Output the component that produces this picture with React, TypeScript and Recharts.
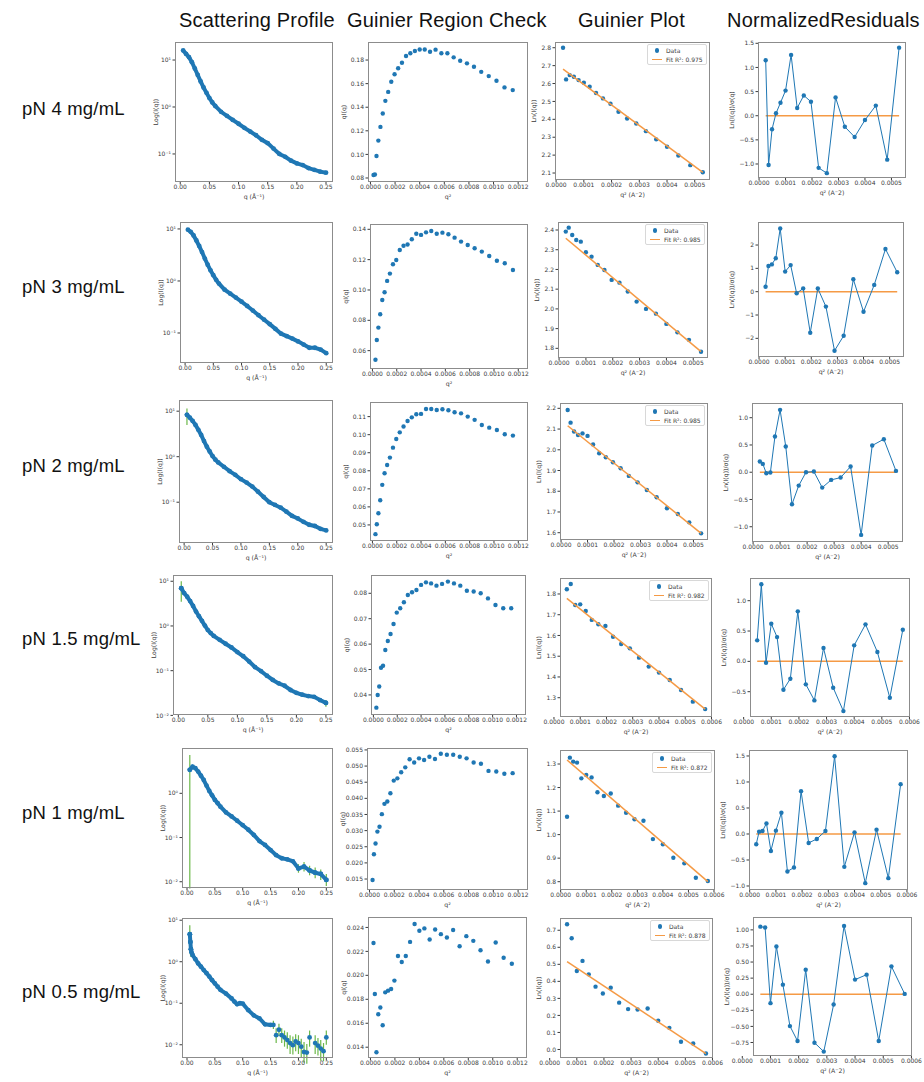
import React from 'react';
import { ComposedChart, Scatter, XAxis, YAxis, ErrorBar } from 'recharts';

const BLUE = '#1f77b4';
const ORANGE = '#f59a45';
const GREEN = '#6cb84a';
const FRAME = '#8c8c8c';
const INK = '#3a3a3a';

const titles = ['Scattering Profile', 'Guinier Region Check', 'Guinier Plot', 'NormalizedResiduals'];
const titleLeft = [179, 347, 578, 727];

// scattering profiles: [q, I]
const pn4Profile = [[0.005, 16], [0.01, 13.5], [0.015, 11.5], [0.02, 9], [0.025, 6.6], [0.03, 4.8], [0.035, 3.5], [0.04, 2.6], [0.045, 2.0], [0.05, 1.55], [0.055, 1.25], [0.06, 1.05], [0.07, 0.79], [0.08, 0.65], [0.09, 0.53], [0.1, 0.44], [0.11, 0.36], [0.12, 0.3], [0.13, 0.25], [0.14, 0.2], [0.15, 0.17], [0.16, 0.13], [0.17, 0.1], [0.18, 0.087], [0.19, 0.072], [0.2, 0.063], [0.21, 0.058], [0.22, 0.05], [0.23, 0.046], [0.24, 0.042], [0.25, 0.04]];
const pn3Profile = [[0.005, 9.7], [0.01, 8.8], [0.015, 7.5], [0.02, 6.0], [0.025, 4.7], [0.03, 3.6], [0.035, 2.7], [0.04, 2.05], [0.045, 1.6], [0.05, 1.29], [0.055, 1.05], [0.06, 0.89], [0.07, 0.68], [0.08, 0.57], [0.09, 0.48], [0.1, 0.4], [0.11, 0.33], [0.12, 0.27], [0.13, 0.22], [0.14, 0.18], [0.15, 0.148], [0.16, 0.12], [0.17, 0.097], [0.18, 0.087], [0.19, 0.078], [0.2, 0.069], [0.21, 0.06], [0.22, 0.052], [0.23, 0.052], [0.24, 0.048], [0.25, 0.041]];
const pn2Profile = [[0.005, 8.3], [0.01, 7.2], [0.015, 6.1], [0.02, 5.0], [0.025, 3.9], [0.03, 3.0], [0.035, 2.2], [0.04, 1.66], [0.045, 1.3], [0.05, 1.03], [0.055, 0.86], [0.06, 0.75], [0.07, 0.6], [0.08, 0.48], [0.09, 0.4], [0.1, 0.32], [0.11, 0.27], [0.12, 0.22], [0.13, 0.17], [0.14, 0.13], [0.15, 0.1], [0.16, 0.087], [0.17, 0.076], [0.18, 0.062], [0.19, 0.05], [0.2, 0.044], [0.21, 0.037], [0.22, 0.032], [0.23, 0.03], [0.24, 0.026], [0.25, 0.024]];
const pn15Profile = [[0.005, 7], [0.01, 5.4], [0.015, 4.5], [0.02, 3.6], [0.025, 2.8], [0.03, 2.1], [0.035, 1.65], [0.04, 1.3], [0.045, 1.02], [0.05, 0.81], [0.055, 0.69], [0.06, 0.6], [0.07, 0.49], [0.08, 0.4], [0.09, 0.33], [0.1, 0.26], [0.11, 0.21], [0.12, 0.16], [0.13, 0.12], [0.14, 0.098], [0.15, 0.077], [0.16, 0.062], [0.17, 0.052], [0.18, 0.046], [0.19, 0.037], [0.2, 0.032], [0.21, 0.029], [0.22, 0.027], [0.23, 0.026], [0.24, 0.022], [0.25, 0.019]];
const pn1Profile = [[0.005, 3.4], [0.01, 4.0], [0.015, 3.7], [0.02, 3.1], [0.025, 2.5], [0.03, 2.0], [0.035, 1.5], [0.04, 1.13], [0.045, 0.9], [0.05, 0.71], [0.055, 0.6], [0.06, 0.5], [0.07, 0.37], [0.08, 0.3], [0.09, 0.24], [0.1, 0.19], [0.11, 0.15], [0.12, 0.114], [0.13, 0.083], [0.14, 0.068], [0.15, 0.052], [0.16, 0.04], [0.17, 0.034], [0.18, 0.032], [0.19, 0.029], [0.2, 0.02], [0.21, 0.022], [0.22, 0.018], [0.23, 0.016], [0.24, 0.015], [0.25, 0.011]];
const pn05Profile = [[0.005, 4.6], [0.006, 3.0], [0.007, 2.0], [0.008, 1.7], [0.01, 1.45], [0.015, 1.15], [0.02, 0.91], [0.025, 0.76], [0.03, 0.63], [0.035, 0.53], [0.04, 0.44], [0.045, 0.36], [0.05, 0.3], [0.055, 0.25], [0.06, 0.21], [0.07, 0.17], [0.08, 0.13], [0.085, 0.11], [0.09, 0.095], [0.095, 0.1], [0.1, 0.098], [0.11, 0.068], [0.12, 0.051], [0.13, 0.043], [0.14, 0.031], [0.15, 0.03]];

// points drawn with error bars: [q, I, lower, upper]
const pn4Errors: number[][] = [];
const pn3Errors: number[][] = [];
const pn2Errors = [[0.005, 8.3, 3.3, 3.2]];
const pn15Errors = [[0.005, 7, 3.5, 3.0], [0.25, 0.019, 0.0035, 0.003]];
const pn1Errors = [[0.005, 3.4, 3.393, 4.0], [0.2, 0.02, 0.004, 0.005], [0.21, 0.022, 0.005, 0.006], [0.22, 0.018, 0.004, 0.005], [0.23, 0.016, 0.004, 0.005], [0.24, 0.015, 0.004, 0.004], [0.25, 0.011, 0.003, 0.004]];
const pn05Errors = [[0.005, 4.6, 2.3, 3.0], [0.006, 3.0, 1.5, 2.0], [0.007, 2.0, 0.7, 0.9], [0.155, 0.03, 0.006, 0.008], [0.16, 0.017, 0.006, 0.008], [0.165, 0.023, 0.007, 0.009], [0.17, 0.017, 0.006, 0.008], [0.175, 0.015, 0.006, 0.007], [0.18, 0.013, 0.005, 0.007], [0.185, 0.011, 0.005, 0.006], [0.19, 0.0098, 0.004, 0.006], [0.195, 0.012, 0.005, 0.006], [0.2, 0.011, 0.005, 0.006], [0.205, 0.009, 0.004, 0.005], [0.21, 0.0067, 0.003, 0.005], [0.215, 0.0065, 0.003, 0.004], [0.22, 0.015, 0.006, 0.007], [0.23, 0.011, 0.005, 0.006], [0.235, 0.0095, 0.004, 0.005], [0.24, 0.0081, 0.004, 0.005], [0.245, 0.007, 0.003, 0.004], [0.25, 0.015, 0.005, 0.007]];

// q^2 positions shared by the Guinier panels
const grcQ2 = [0.000025, 0.000036, 0.000049, 0.000064, 0.000081, 0.0001, 0.000121, 0.000144, 0.000169, 0.000196, 0.000225, 0.000256, 0.000289, 0.000324, 0.000361, 0.0004, 0.000441, 0.000484, 0.000529, 0.000576, 0.000625, 0.000676, 0.000729, 0.000784, 0.000841, 0.0009, 0.000961, 0.001024, 0.001089, 0.001156];

const pn4Grc = [0.0825, 0.083, 0.0987, 0.1117, 0.1233, 0.1347, 0.1454, 0.153, 0.1616, 0.168, 0.173, 0.1777, 0.1834, 0.1857, 0.1877, 0.189, 0.189, 0.187, 0.1888, 0.1857, 0.1857, 0.1823, 0.1794, 0.1772, 0.1743, 0.17, 0.1664, 0.1624, 0.1568, 0.1545];
const pn3Grc = [0.054, 0.067, 0.0752, 0.084, 0.0934, 0.0985, 0.106, 0.1108, 0.117, 0.1198, 0.1264, 0.1292, 0.13, 0.1334, 0.1371, 0.1363, 0.138, 0.1389, 0.1371, 0.1378, 0.1367, 0.1345, 0.1319, 0.1297, 0.1275, 0.1253, 0.1224, 0.1193, 0.1176, 0.1132];
const pn2Grc = [0.0449, 0.0504, 0.0565, 0.0637, 0.0722, 0.0786, 0.0832, 0.0873, 0.0928, 0.0976, 0.1013, 0.1045, 0.1076, 0.1096, 0.1113, 0.1115, 0.1142, 0.1142, 0.1137, 0.1141, 0.1135, 0.1124, 0.1118, 0.11, 0.1082, 0.1054, 0.1039, 0.1026, 0.1002, 0.0995];
const pn15Grc = [0.035, 0.04, 0.0433, 0.0507, 0.0515, 0.0577, 0.0612, 0.064, 0.0679, 0.0724, 0.0741, 0.0765, 0.0793, 0.0804, 0.0813, 0.0833, 0.0843, 0.0839, 0.083, 0.0837, 0.0846, 0.0839, 0.083, 0.081, 0.0807, 0.08, 0.078, 0.0754, 0.0741, 0.0741];
const pn1Grc = [0.0147, 0.0227, 0.026, 0.0297, 0.0312, 0.0351, 0.0383, 0.039, 0.0416, 0.0455, 0.0462, 0.0481, 0.0496, 0.0521, 0.0511, 0.0524, 0.0519, 0.0529, 0.0522, 0.0538, 0.0535, 0.0535, 0.0529, 0.0524, 0.0511, 0.0507, 0.0485, 0.0483, 0.0476, 0.0478];
const pn05Grc = [0.0227, 0.01844, 0.01358, 0.01675, 0.01731, 0.01583, 0.01858, 0.01872, 0.01886, 0.01956, 0.02161, 0.02111, 0.02161, 0.02279, 0.02428, 0.02372, 0.02392, 0.02299, 0.02383, 0.02344, 0.02316, 0.02378, 0.02243, 0.02327, 0.02288, 0.02209, 0.02116, 0.02274, 0.02147, 0.02097];

// Guinier plot ln(I), fit end values, normalized residuals
const pn4Ln = [2.8, 2.623, 2.647, 2.638, 2.619, 2.604, 2.582, 2.547, 2.517, 2.487, 2.442, 2.405, 2.377, 2.334, 2.288, 2.247, 2.198, 2.144, 2.104];
const pn4Fit = [2.681, 2.104];
const pn4Res = [1.15, -1.02, -0.28, 0.05, 0.27, 0.52, 1.26, 0.16, 0.42, 0.29, -1.08, -1.19, 0.38, -0.23, -0.44, -0.09, 0.21, -0.91, 1.41];
const pn3Ln = [2.392, 2.412, 2.375, 2.349, 2.341, 2.287, 2.265, 2.223, 2.197, 2.147, 2.133, 2.088, 2.037, 2.0, 1.976, 1.924, 1.881, 1.843, 1.783];
const pn3Fit = [2.358, 1.783];
const pn3Res = [0.21, 1.1, 1.17, 1.43, 2.71, 0.86, 1.14, -0.07, 0.14, -1.76, 0.14, -0.64, -2.53, -1.89, 0.53, -0.86, 0.29, 1.83, 0.83];
const pn2Ln = [2.192, 2.131, 2.088, 2.071, 2.079, 2.067, 2.026, 1.983, 1.964, 1.94, 1.911, 1.874, 1.843, 1.806, 1.771, 1.718, 1.69, 1.65, 1.597];
const pn2Fit = [2.116, 1.597];
const pn2Res = [0.196, 0.153, -0.02, -0.006, 0.655, 1.144, 0.471, -0.588, -0.245, 0.0, 0.012, -0.282, -0.141, -0.098, 0.104, -1.15, 0.49, 0.606, 0.024];
const pn15Ln = [1.8225, 1.848, 1.747, 1.75, 1.718, 1.675, 1.654, 1.646, 1.594, 1.559, 1.538, 1.493, 1.45, 1.421, 1.385, 1.337, 1.281, 1.245];
const pn15Fit = [1.779, 1.245];
const pn15Res = [0.346, 1.27, -0.022, 0.62, 0.4, -0.467, -0.286, 0.824, -0.379, -0.643, 0.22, -0.434, -0.82, 0.264, 0.61, 0.154, -0.6, 0.522];
const pn1Ln = [1.076, 1.327, 1.31, 1.306, 1.239, 1.253, 1.243, 1.18, 1.164, 1.175, 1.123, 1.093, 1.065, 1.059, 0.981, 0.959, 0.902, 0.878, 0.817, 0.803];
const pn1Fit = [1.317, 0.8];
const pn1Res = [-0.198, 0.045, 0.057, 0.204, -0.326, 0.064, 0.409, -0.72, -0.645, 0.824, -0.172, -0.096, 0.057, 1.494, -0.632, 0.032, -0.945, 0.083, -0.849, 0.958];
const pn05Ln = [0.735, 0.653, 0.461, 0.52, 0.441, 0.369, 0.329, 0.363, 0.275, 0.237, 0.235, 0.241, 0.169, 0.127, 0.045, 0.035, -0.024];
const pn05Fit = [0.516, -0.024];
const pn05Res = [1.05, 1.036, -0.139, 0.742, 0.149, -0.495, -0.727, 0.381, -0.753, -0.892, -0.16, 1.062, 0.227, 0.304, -0.727, 0.433, 0.005];

const spXTicks = [0, 0.05, 0.1, 0.15, 0.2, 0.25];
const grcXTicks = [0, 0.0002, 0.0004, 0.0006, 0.0008, 0.001, 0.0012];
const gpTicksA = [0, 0.0001, 0.0002, 0.0003, 0.0004, 0.0005];
const gpTicksB = [0, 0.0001, 0.0002, 0.0003, 0.0004, 0.0005, 0.0006];

const rows = [
  {
    label: 'pN 4 mg/mL', labelTop: 100, r2: '0.975',
    profile: pn4Profile, errors: pn4Errors, grc: pn4Grc, gq: grcQ2.slice(0, 19), ln: pn4Ln, fit: pn4Fit, res: pn4Res,
    spY: [0.0253, 24.2], spTicks: [0.1, 1, 10],
    grcY: [0.0766, 0.1953], grcTicks: [0.08, 0.1, 0.12, 0.14, 0.16, 0.18], grcDigits: 2,
    gX: [-0.000004, 0.000555], gXTicks: gpTicksA,
    gpY: [2.061, 2.832], gpTicks: [2.1, 2.2, 2.3, 2.4, 2.5, 2.6, 2.7, 2.8],
    resY: [-1.29, 1.527], resTicks: [-1, -0.5, 0, 0.5, 1, 1.5], resDigits: 1,
    frames: [[175, 42, 158, 140], [368, 42, 160, 140], [555, 42, 155, 138], [758, 42, 148, 136]],
  },
  {
    label: 'pN 3 mg/mL', labelTop: 278, r2: '0.985',
    profile: pn3Profile, errors: pn3Errors, grc: pn3Grc, gq: grcQ2.slice(0, 19), ln: pn3Ln, fit: pn3Fit, res: pn3Res,
    spY: [0.0265, 13.6], spTicks: [0.1, 1, 10],
    grcY: [0.0479, 0.1435], grcTicks: [0.06, 0.08, 0.1, 0.12, 0.14], grcDigits: 2,
    gX: [-0.000004, 0.000555], gXTicks: gpTicksA,
    gpY: [1.751, 2.4406], gpTicks: [1.8, 1.9, 2.0, 2.1, 2.2, 2.3, 2.4],
    resY: [-2.8, 2.987], resTicks: [-2, -1, 0, 1, 2], resDigits: 0,
    frames: [[180, 222, 153, 141], [370, 224, 158, 145], [558, 222, 150, 136], [758, 222, 146, 135]],
  },
  {
    label: 'pN 2 mg/mL', labelTop: 457, r2: '0.985',
    profile: pn2Profile, errors: pn2Errors, grc: pn2Grc, gq: grcQ2.slice(0, 19), ln: pn2Ln, fit: pn2Fit, res: pn2Res,
    spY: [0.0127, 17.6], spTicks: [0.1, 1, 10],
    grcY: [0.0411, 0.1181], grcTicks: [0.05, 0.06, 0.07, 0.08, 0.09, 0.1, 0.11], grcDigits: 2,
    gX: [-0.000004, 0.000555], gXTicks: gpTicksA,
    gpY: [1.5648, 2.2257], gpTicks: [1.6, 1.7, 1.8, 1.9, 2.0, 2.1, 2.2],
    resY: [-1.28, 1.27], resTicks: [-1, -0.5, 0, 0.5, 1], resDigits: 1,
    frames: [[179, 400, 154, 143], [370, 402, 158, 139], [560, 403, 148, 137], [752, 403, 151, 139]],
  },
  {
    label: 'pN 1.5 mg/mL', labelTop: 630, r2: '0.982',
    profile: pn15Profile, errors: pn15Errors, grc: pn15Grc, gq: grcQ2.slice(2, 20), ln: pn15Ln, fit: pn15Fit, res: pn15Res,
    spY: [0.0102, 13.8], spTicks: [0.01, 0.1, 1, 10],
    grcY: [0.0321, 0.0872], grcTicks: [0.04, 0.05, 0.06, 0.07, 0.08], grcDigits: 2,
    gX: [0.000023, 0.000602], gXTicks: gpTicksB,
    gpY: [1.207, 1.877], gpTicks: [1.3, 1.4, 1.5, 1.6, 1.7, 1.8],
    resY: [-0.917, 1.374], resTicks: [-0.5, 0, 0.5, 1], resDigits: 1,
    frames: [[173, 575, 160, 140], [371, 575, 155, 140], [560, 578, 152, 139], [750, 578, 160, 139]],
  },
  {
    label: 'pN 1 mg/mL', labelTop: 804, r2: '0.872',
    profile: pn1Profile, errors: pn1Errors, grc: pn1Grc, gq: grcQ2.slice(0, 20), ln: pn1Ln, fit: pn1Fit, res: pn1Res,
    spY: [0.00722, 10.6], spTicks: [0.01, 0.1, 1],
    grcY: [0.0116, 0.0556], grcTicks: [0.015, 0.02, 0.025, 0.03, 0.035, 0.04, 0.045, 0.05, 0.055], grcDigits: 3,
    gX: [-0.0000026, 0.000604], gXTicks: gpTicksB,
    gpY: [0.7647, 1.3595], gpTicks: [0.8, 0.9, 1.0, 1.1, 1.2, 1.3],
    resY: [-1.077, 1.615], resTicks: [-1, -0.5, 0, 0.5, 1, 1.5], resDigits: 1,
    frames: [[182, 748, 151, 140], [367, 748, 161, 142], [560, 750, 155, 140], [749, 750, 159, 140]],
  },
  {
    label: 'pN 0.5 mg/mL', labelTop: 983, r2: '0.878',
    profile: pn05Profile, errors: pn05Errors, grc: pn05Grc, gq: grcQ2.slice(3, 20), ln: pn05Ln, fit: pn05Fit, res: pn05Res,
    spY: [0.0048, 11.3], spTicks: [0.01, 0.1, 1, 10],
    grcY: [0.0131, 0.02487], grcTicks: [0.014, 0.016, 0.018, 0.02, 0.022, 0.024], grcDigits: 3,
    gX: [0.000038, 0.000602], gXTicks: gpTicksB,
    gpY: [-0.05, 0.772], gpTicks: [0, 0.1, 0.2, 0.3, 0.4, 0.5, 0.6, 0.7],
    resY: [-0.96, 1.2], resTicks: [-0.75, -0.5, -0.25, 0, 0.25, 0.5, 0.75, 1], resDigits: 2,
    frames: [[182, 918, 151, 140], [368, 917, 159, 141], [560, 918, 153, 140], [753, 917, 159, 139]],
  },
];

const YW = 40;
const XH = 18;
const PAD_T = 5;
const PAD_R = 12;
const tickStyle = { fontSize: 6, fill: INK, fontFamily: 'DejaVu Sans, sans-serif' };
const labelStyle = { fontSize: 6.2, fill: INK, fontFamily: 'DejaVu Sans, sans-serif', textAnchor: 'middle' as const };

const sup: Record<string, string> = { '-': '⁻', '0': '⁰', '1': '¹', '2': '²', '3': '³' };
const logFmt = (v: number) => '10' + String(Math.round(Math.log10(v))).split('').map((c) => sup[c]).join('');
const fixed = (d: number) => (v: number) => v.toFixed(d).replace('-', '\u2212');

const dot = (r: number) => (p: any) => <circle cx={p.cx} cy={p.cy} r={r} fill={BLUE} />;
const noDot = () => <g />;

type P = { x: number; y: number; e?: number[] };
const fromPairs = (rs: number[][]): P[] => rs.map((r) => ({ x: r[0], y: r[1], e: r.length > 2 ? [r[2], r[3]] : undefined }));
const fromCols = (xs: number[], ys: number[]): P[] => ys.map((y, i) => ({ x: xs[i], y }));

type PanelProps = {
  frame: number[];
  xDomain: number[];
  xTicks: number[];
  xFmt: (v: number) => string;
  yDomain: number[];
  yTicks: number[];
  yFmt: (v: number) => string;
  log?: boolean;
  xLabel: string;
  yLabel: string;
  yGap: number;
  children: React.ReactNode;
};

function Panel(p: PanelProps) {
  const [l, t, w, h] = p.frame;
  return (
    <>
      <div style={{ position: 'absolute', left: l - YW, top: t - PAD_T }}>
        <ComposedChart width={YW + w + PAD_R} height={PAD_T + h + XH} margin={{ top: PAD_T, right: PAD_R, bottom: 0, left: 0 }}>
          <XAxis type="number" dataKey="x" domain={p.xDomain as [number, number]} ticks={p.xTicks} interval={0} allowDataOverflow
            height={XH} tickFormatter={p.xFmt} tick={tickStyle} tickSize={2.5} tickMargin={0.5} axisLine={false}
            tickLine={{ stroke: INK }} label={{ value: p.xLabel, position: 'insideBottom', offset: 1, style: labelStyle }} />
          <YAxis type="number" dataKey="y" scale={p.log ? 'log' : 'linear'} domain={p.yDomain as [number, number]} ticks={p.yTicks}
            interval={0} allowDataOverflow width={YW} tickFormatter={p.yFmt} tick={tickStyle} tickSize={2.5} tickMargin={1.5}
            axisLine={false} tickLine={{ stroke: INK }}
            label={{ value: p.yLabel, angle: -90, position: 'insideLeft', offset: YW - p.yGap, style: labelStyle }} />
          {p.children}
        </ComposedChart>
      </div>
      <div style={{ position: 'absolute', left: l, top: t, width: w, height: h, border: `1px solid ${FRAME}`, boxSizing: 'border-box', pointerEvents: 'none' }} />
    </>
  );
}

function FitKey({ frame, r2 }: { frame: number[]; r2: string }) {
  const [l, t, w] = frame;
  return (
    <div style={{ position: 'absolute', left: l + w - 63, top: t + 2, width: 60, height: 21, boxSizing: 'border-box', border: '1px solid #d8d8d8', borderRadius: 2, background: '#fff', fontFamily: 'DejaVu Sans, sans-serif', fontSize: 6, color: INK, lineHeight: '9px', paddingTop: 1 }}>
      <div style={{ display: 'flex', alignItems: 'center' }}>
        <span style={{ width: 18, display: 'flex', justifyContent: 'center' }}>
          <span style={{ width: 4.5, height: 4.5, borderRadius: '50%', background: BLUE }} />
        </span>
        <span>Data</span>
      </div>
      <div style={{ display: 'flex', alignItems: 'center' }}>
        <span style={{ width: 18, display: 'flex', justifyContent: 'center' }}>
          <span style={{ width: 10, height: 1.5, background: ORANGE }} />
        </span>
        <span>Fit R²: {r2}</span>
      </div>
    </div>
  );
}

function Row({ r }: { r: (typeof rows)[number] }) {
  const [fs, fg, fp, fr] = r.frames;
  const profile = fromPairs(r.profile);
  const errors = fromPairs(r.errors);
  const grc = fromCols(grcQ2, r.grc);
  const ln = fromCols(r.gq, r.ln);
  const res = fromCols(r.gq, r.res);
  const x0 = r.gq[0];
  const x1 = r.gq[r.gq.length - 1];
  const fit = fromCols([x0, x1], r.fit);
  const zero = fromCols([x0, x1], [0, 0]);
  return (
    <>
      <div style={{ position: 'absolute', left: 22, top: r.labelTop, fontFamily: 'Liberation Sans, Arial, sans-serif', fontSize: 18.5, letterSpacing: 0.2, lineHeight: 1, color: '#111', whiteSpace: 'nowrap' }}>
        {r.label}
      </div>
      <Panel frame={fs} xDomain={[-0.009, 0.262]} xTicks={spXTicks} xFmt={fixed(2)} yDomain={r.spY} yTicks={r.spTicks} yFmt={logFmt}
        log xLabel="q (Å⁻¹)" yLabel="Log(I(q))" yGap={19}>
        {[
          <Scatter key="band" data={profile} line={{ stroke: BLUE, strokeWidth: 4 }} shape={dot(2.4)} isAnimationActive={false} />,
          <Scatter key="err" data={errors} shape={dot(2.4)} isAnimationActive={false}>
            <ErrorBar dataKey="e" direction="y" stroke={GREEN} width={0} strokeWidth={1.2} />
          </Scatter>,
        ]}
      </Panel>
      <Panel frame={fg} xDomain={[-0.00002, 0.00128]} xTicks={grcXTicks} xFmt={fixed(4)} yDomain={r.grcY} yTicks={r.grcTicks}
        yFmt={fixed(r.grcDigits)} xLabel="q²" yLabel="qI(q)" yGap={24}>
        {[<Scatter key="grc" data={grc} shape={dot(2.2)} isAnimationActive={false} />]}
      </Panel>
      <Panel frame={fp} xDomain={r.gX} xTicks={r.gXTicks} xFmt={fixed(4)} yDomain={r.gpY} yTicks={r.gpTicks} yFmt={fixed(1)}
        xLabel="q² (A⁻2)" yLabel="Ln(I(q))" yGap={21}>
        {[
          <Scatter key="data" data={ln} shape={dot(2.2)} isAnimationActive={false} />,
          <Scatter key="fit" data={fit} line={{ stroke: ORANGE, strokeWidth: 1.5 }} shape={noDot} isAnimationActive={false} />,
        ]}
      </Panel>
      <FitKey frame={fp} r2={r.r2} />
      <Panel frame={fr} xDomain={r.gX} xTicks={r.gXTicks} xFmt={fixed(4)} yDomain={r.resY} yTicks={r.resTicks} yFmt={fixed(r.resDigits)}
        xLabel="q² (A⁻2)" yLabel="Ln(I(q))/σ(q)" yGap={26}>
        {[
          <Scatter key="zero" data={zero} line={{ stroke: ORANGE, strokeWidth: 1.5 }} shape={noDot} isAnimationActive={false} />,
          <Scatter key="res" data={res} line={{ stroke: BLUE, strokeWidth: 1 }} shape={dot(2.2)} isAnimationActive={false} />,
        ]}
      </Panel>
    </>
  );
}

export default function App() {
  return (
    <div style={{ position: 'absolute', left: 0, top: 0, width: 924, height: 1082, background: '#fff', overflow: 'hidden' }}>
      {titles.map((t, i) => (
        <div key={t} style={{ position: 'absolute', left: titleLeft[i], top: 10, fontFamily: 'Liberation Sans, Arial, sans-serif', fontSize: 20, letterSpacing: 0.2, lineHeight: 1, color: '#111', whiteSpace: 'nowrap' }}>
          {t}
        </div>
      ))}
      {rows.map((r) => (
        <Row key={r.label} r={r} />
      ))}
    </div>
  );
}
